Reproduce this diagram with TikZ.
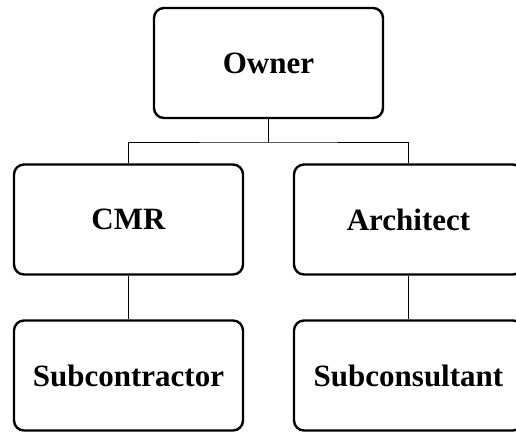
\documentclass[tikz,border=0pt]{standalone}
\usepackage{fontspec}
\setmainfont{Liberation Serif}
\begin{document}
\begin{tikzpicture}[x=1pt,y=-1pt,
  orgbox/.style={draw, line width=2.4pt, rounded corners=10pt,
    minimum width=229pt, minimum height=110pt, inner sep=0pt,
    font=\fontsize{31}{36}\selectfont\bfseries},
  link/.style={line width=1pt}]
  \useasboundingbox (0,0) rectangle (516,432);
  \clip (0,0) rectangle (516,432);
  % boxes
  \node[orgbox] (owner) at (268.5,63) {Owner};
  \node[orgbox] (cmr) at (128.5,219.5) {CMR};
  \node[orgbox] (arch) at (408.5,219.5) {Architect};
  \node[orgbox] (subcon) at (128.5,375.5) {Subcontractor};
  \node[orgbox] (subcons) at (408.5,375.5) {Subconsultant};
  % connectors
  \coordinate (split) at (268.5,142);
  \draw[link] (owner.south) -- (split);
  \draw[link] (cmr.north) |- (split) -| (arch.north);
  \draw[link] (cmr.south) -- (subcon.north);
  \draw[link] (arch.south) -- (subcons.north);
\end{tikzpicture}
\end{document}
